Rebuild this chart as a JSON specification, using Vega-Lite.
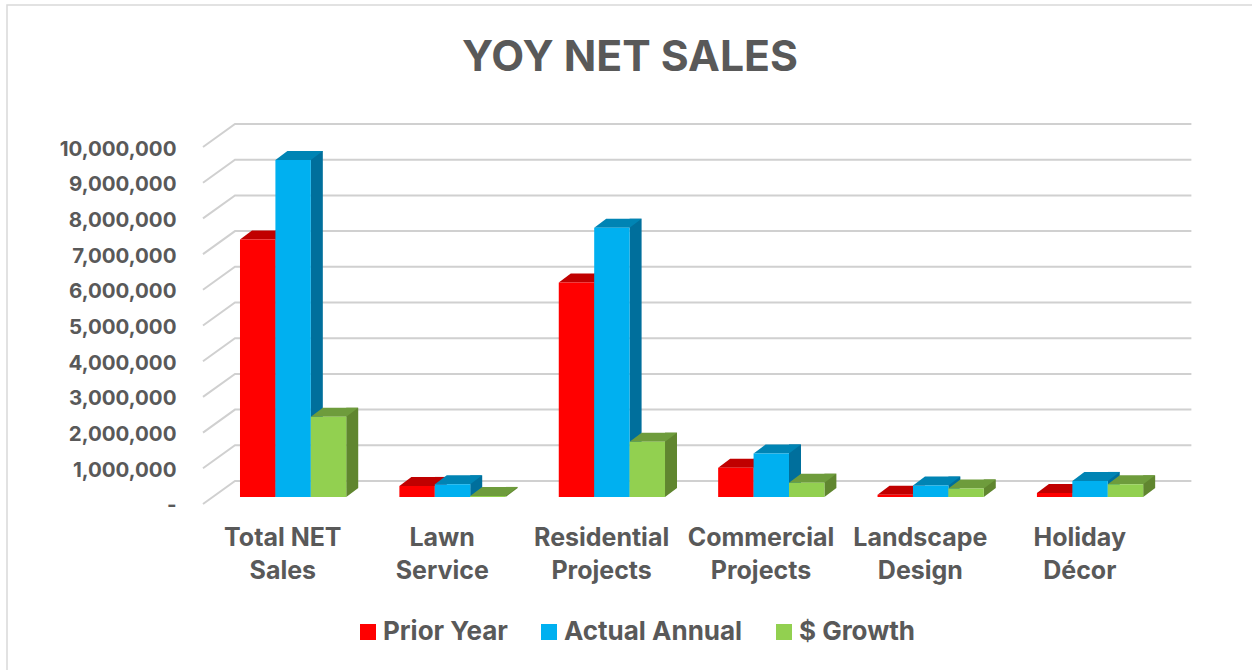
{
"$schema":"https://vega.github.io/schema/vega-lite/v6.json",
"width":977.2,"height":357,
"autosize":{"type":"none"},
"padding":{"left":203,"top":140,"right":72,"bottom":173},
"background":"white",
"config":{"view":{"stroke":null},"font":"Inter"},
"title":{"text":"YOY NET SALES","font":"Inter","fontSize":42.7,"fontWeight":700,"color":"#595959","anchor":"middle","dx":-61.6,"offset":-78},
"datasets":{
"sales":[
{"category":"Total NET Sales","series":"Prior Year","value":7210000},
{"category":"Total NET Sales","series":"Actual Annual","value":9440000},
{"category":"Total NET Sales","series":"$ Growth","value":2250000},
{"category":"Lawn Service","series":"Prior Year","value":310000},
{"category":"Lawn Service","series":"Actual Annual","value":355000},
{"category":"Lawn Service","series":"$ Growth","value":30000},
{"category":"Residential Projects","series":"Prior Year","value":6010000},
{"category":"Residential Projects","series":"Actual Annual","value":7540000},
{"category":"Residential Projects","series":"$ Growth","value":1550000},
{"category":"Commercial Projects","series":"Prior Year","value":820000},
{"category":"Commercial Projects","series":"Actual Annual","value":1220000},
{"category":"Commercial Projects","series":"$ Growth","value":400000},
{"category":"Landscape Design","series":"Prior Year","value":65000},
{"category":"Landscape Design","series":"Actual Annual","value":320000},
{"category":"Landscape Design","series":"$ Growth","value":240000},
{"category":"Holiday Décor","series":"Prior Year","value":110000},
{"category":"Holiday Décor","series":"Actual Annual","value":450000},
{"category":"Holiday Décor","series":"$ Growth","value":355000}
],
"ticks":[{"tick":0},{"tick":1000000},{"tick":2000000},{"tick":3000000},{"tick":4000000},{"tick":5000000},{"tick":6000000},{"tick":7000000},{"tick":8000000},{"tick":9000000},{"tick":10000000}],
"frame":[{"category":"Total NET Sales","tick":10000000}]
},
"data":{"name":"sales"},
"layer":[
{"data":{"name":"frame"},
 "mark":{"type":"point","shape":"M-233,530 L-233,-135 L1013,-135","size":4,"filled":false,"stroke":"#D9D9D9","strokeWidth":1.5,"opacity":1,"clip":false},
 "encoding":{
  "x":{"field":"category","type":"nominal","bandPosition":0,"sort":null,"scale":{"domain":["Total NET Sales","Lawn Service","Residential Projects","Commercial Projects","Landscape Design","Holiday Décor"],"paddingInner":0.3333,"paddingOuter":0.2321},
   "axis":{"title":null,"domain":false,"ticks":false,"labelAngle":0,"labelFont":"Inter","labelFontSize":25,"labelFontWeight":700,"labelColor":"#595959","labelPadding":29,"labelOffset":-10.3,"labelLineHeight":33,"labelLimit":200,"labelOverlap":false,"labelExpr":"datum.label=='Total NET Sales'?['Total NET','Sales']:split(datum.label,' ')"}},
  "y":{"field":"tick","type":"quantitative","scale":{"domain":[0,10000000],"nice":false,"zero":true},
   "axis":{"title":null,"domain":false,"ticks":false,"grid":false,"tickCount":10,"labelFont":"Inter","labelFontSize":20.5,"labelFontWeight":700,"labelColor":"#595959","labelPadding":27,"labelOffset":9,"labelLimit":200,"labelOverlap":false,"labelSeparation":0,"labelExpr":"datum.value==0?'-':format(datum.value,',')"}}
 }},
{"data":{"name":"ticks"},
 "mark":{"type":"point","shape":"M-37,7 L-5,-16 L951.4,-16","size":4,"filled":false,"stroke":"#D0D0D0","strokeWidth":2,"opacity":1},
 "encoding":{"x":{"datum":"Total NET Sales","bandPosition":0},"y":{"field":"tick","type":"quantitative"}}},
{"transform":[{"filter":"datum.series=='Prior Year'"}],
 "mark":{"type":"rule","strokeWidth":12,"strokeCap":"butt","color":"#A00000","xOffset":-11.7,"yOffset":-9,"y2Offset":-9},
 "encoding":{"x":{"field":"category","type":"nominal","sort":null},"y":{"field":"value","type":"quantitative"},"y2":{"datum":0}}},
{"transform":[{"filter":"datum.series=='Actual Annual'"}],
 "mark":{"type":"rule","strokeWidth":12,"strokeCap":"butt","color":"#006F9C","xOffset":23.7,"yOffset":-9,"y2Offset":-9},
 "encoding":{"x":{"field":"category","type":"nominal","sort":null},"y":{"field":"value","type":"quantitative"},"y2":{"datum":0}}},
{"transform":[{"filter":"datum.series=='$ Growth'"}],
 "mark":{"type":"rule","strokeWidth":12,"strokeCap":"butt","color":"#60862F","xOffset":59.1,"yOffset":-9,"y2Offset":-9},
 "encoding":{"x":{"field":"category","type":"nominal","sort":null},"y":{"field":"value","type":"quantitative"},"y2":{"datum":0}}},
{"mark":{"type":"point","shape":"M17.7,0 L29.7,-9 L17.7,-9 Z","size":4,"filled":true,"strokeWidth":0,"opacity":1},
 "encoding":{
  "x":{"field":"category","type":"nominal","sort":null},
  "xOffset":{"field":"series","type":"nominal","sort":null,"scale":{"type":"band","domain":["Prior Year","Actual Annual","$ Growth"],"paddingInner":0,"paddingOuter":0}},
  "y":{"datum":0},
  "color":{"field":"series","type":"nominal","legend":null,"scale":{"domain":["Prior Year","Actual Annual","$ Growth"],"range":["#A00000","#006F9C","#60862F"]}}}},
{"mark":{"type":"point","shape":"M-17.7,0 L-5.7,-9 L29.7,-9 L17.7,0 Z","size":4,"filled":true,"strokeWidth":0,"opacity":1},
 "encoding":{
  "x":{"field":"category","type":"nominal","sort":null},
  "xOffset":{"field":"series","type":"nominal","sort":null},
  "y":{"field":"value","type":"quantitative"},
  "color":{"field":"series","type":"nominal","legend":null,"scale":{"domain":["Prior Year","Actual Annual","$ Growth"],"range":["#C00000","#0084B4","#6E9C3C"]}}}},
{"mark":{"type":"bar"},
 "encoding":{
  "x":{"field":"category","type":"nominal","sort":null},
  "xOffset":{"field":"series","type":"nominal","sort":null},
  "y":{"field":"value","type":"quantitative","stack":null},
  "color":{"field":"series","type":"nominal","scale":{"domain":["Prior Year","Actual Annual","$ Growth"],"range":["#FF0000","#00B0F0","#92D050"]},
   "legend":{"title":null,"orient":"none","legendX":152,"legendY":479,"direction":"horizontal","symbolType":"square","symbolSize":256,"symbolStrokeWidth":0,"symbolOpacity":1,"labelFont":"Inter","labelFontSize":26,"labelFontWeight":700,"labelColor":"#595959","labelOffset":2,"columnPadding":28,"labelLimit":250}}}}
],
"resolve":{"scale":{"color":"independent"}}
}
